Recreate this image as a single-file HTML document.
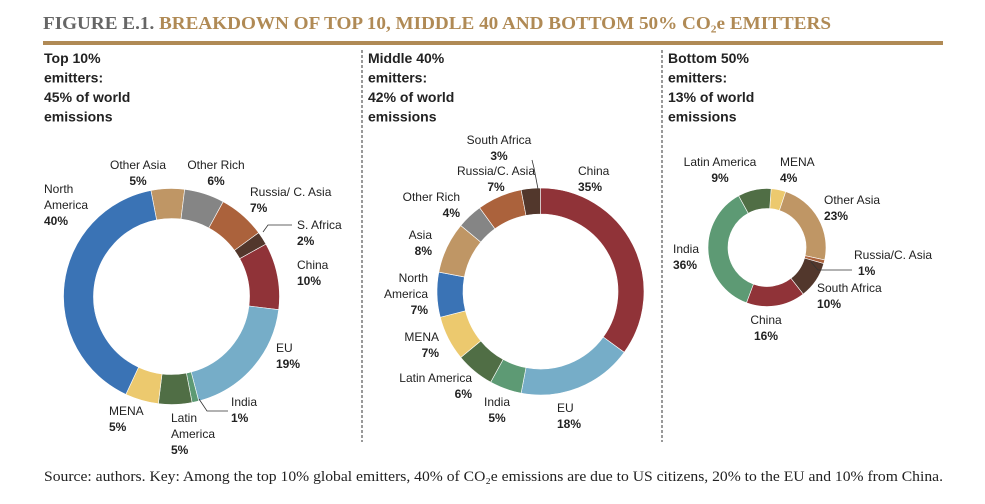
<!DOCTYPE html>
<html><head><meta charset="utf-8"><style>
body{margin:0;width:985px;height:504px;background:#fff;overflow:hidden;font-family:"Liberation Sans",sans-serif}
svg{position:absolute;left:0;top:0}
.t{font-size:12px;fill:#222}
.b{font-weight:bold}
</style></head><body>
<svg width="985" height="504">
<text x="43" y="29" font-family="Liberation Serif" font-weight="bold" font-size="18" textLength="788" lengthAdjust="spacingAndGlyphs"><tspan fill="#666">FIGURE E.1. </tspan><tspan fill="#b08a55">BREAKDOWN OF TOP 10, MIDDLE 40 AND BOTTOM 50% CO₂e EMITTERS</tspan></text>
<rect x="43" y="41" width="900" height="4" fill="#b08a55"/>
<line x1="362" y1="50" x2="362" y2="442" stroke="#333" stroke-dasharray="3,2"/>
<line x1="662" y1="50" x2="662" y2="442" stroke="#333" stroke-dasharray="3,2"/>
<g font-size="14" font-weight="bold" fill="#222">
<text x="44" y="63"><tspan x="44">Top 10%</tspan><tspan x="44" dy="19.5">emitters:</tspan><tspan x="44" dy="19.5">45% of world</tspan><tspan x="44" dy="19.5">emissions</tspan></text>
<text x="368" y="63"><tspan x="368">Middle 40%</tspan><tspan x="368" dy="19.5">emitters:</tspan><tspan x="368" dy="19.5">42% of world</tspan><tspan x="368" dy="19.5">emissions</tspan></text>
<text x="668" y="63"><tspan x="668">Bottom 50%</tspan><tspan x="668" dy="19.5">emitters:</tspan><tspan x="668" dy="19.5">13% of world</tspan><tspan x="668" dy="19.5">emissions</tspan></text>
</g>
<g id="d1"></g><g id="d2"></g><g id="d3"></g>
<g id="labels" class="t"></g>
<text x="44" y="481" font-family="Liberation Serif" font-size="15" fill="#222" textLength="899" lengthAdjust="spacingAndGlyphs">Source: authors. Key: Among the top 10% global emitters, 40% of CO₂e emissions are due to US citizens, 20% to the EU and 10% from China.</text>
</svg>
<script>
const C={na:"#3a73b5",oa:"#bf9665",or:"#858585",ru:"#ab623c",sa:"#52372c",cn:"#903338",eu:"#76adc8",in:"#5d9a74",la:"#506e45",me:"#ecc96e"};
const cats1=["Other Asia","Other Rich","Russia/ C. Asia","S. Africa","China","EU","India","Latin America","MENA","North America"];
const vals1=[5,6,7,2,10,19,1,5,5,40];
const cols1=[C.oa,C.or,C.ru,C.sa,C.cn,C.eu,C.in,C.la,C.me,C.na];
const cats2=["China","EU","India","Latin America","MENA","North America","Asia","Other Rich","Russia/C. Asia","South Africa"];
const vals2=[35,18,5,6,7,7,8,4,7,3];
const cols2=[C.cn,C.eu,C.in,C.la,C.me,C.na,C.oa,C.or,C.ru,C.sa];
const cats3=["MENA","Other Asia","Russia/C. Asia","South Africa","China","India","Latin America"];
const vals3=[4,23,1,10,16,36,9];
const cols3=[C.me,C.oa,C.ru,C.sa,C.cn,C.in,C.la];
const NS="http://www.w3.org/2000/svg";
function pt(cx,cy,r,deg){const a=(deg-90)*Math.PI/180;return [cx+r*Math.cos(a),cy+r*Math.sin(a)];}
function donut(g,cats,vals,cols,cx,cy,ro,ri,start,prefix){
  const tot=vals.reduce((a,b)=>a+b,0);let a=start;
  vals.forEach((v,i)=>{
    const s=a,e=a+v/tot*360;a=e;
    const [x1,y1]=pt(cx,cy,ro,s),[x2,y2]=pt(cx,cy,ro,e),[x3,y3]=pt(cx,cy,ri,e),[x4,y4]=pt(cx,cy,ri,s);
    const l=(e-s)>180?1:0;
    const p=document.createElementNS(NS,"path");
    p.setAttribute("d",`M${x1},${y1}A${ro},${ro} 0 ${l} 1 ${x2},${y2}L${x3},${y3}A${ri},${ri} 0 ${l} 0 ${x4},${y4}Z`);
    p.setAttribute("fill",cols[i]);p.setAttribute("stroke","#fff");p.setAttribute("stroke-width","0.6");
    
    
    document.getElementById(g).appendChild(p);
  });
}
donut("d1",cats1,vals1,cols1,171.5,296.5,108,78,-11,"top10");
donut("d2",cats2,vals2,cols2,540.5,291.5,103.5,77.5,0,"middle40");
donut("d3",cats3,vals3,cols3,767,247.5,59,39,4,"bottom50");
const L=[
["top10",[["North","America","40%"],44,193,"start"],[["Other Asia","5%"],138,169,"middle"],[["Other Rich","6%"],216,169,"middle"],[["Russia/ C. Asia","7%"],250,196,"start"],[["S. Africa","2%"],297,229,"start"],[["China","10%"],297,269,"start"],[["EU","19%"],276,352,"start"],[["India","1%"],231,406,"start"],[["Latin","America","5%"],171,422,"start"],[["MENA","5%"],109,415,"start"]],
["middle40",[["South Africa","3%"],499,144,"middle"],[["China","35%"],578,175,"start"],[["Russia/C. Asia","7%"],496,175,"middle"],[["Other Rich","4%"],460,201,"end"],[["Asia","8%"],432,239,"end"],[["North","America","7%"],428,282,"end"],[["MENA","7%"],439,341,"end"],[["Latin America","6%"],472,382,"end"],[["India","5%"],497,406,"middle"],[["EU","18%"],557,412,"start"]],
["bottom50",[["Latin America","9%"],720,166,"middle"],[["MENA","4%"],780,166,"start"],[["Other Asia","23%"],824,204,"start"],[["Russia/C. Asia","1%"],854,259,"start"],[["South Africa","10%"],817,292,"start"],[["China","16%"],766,324,"middle"],[["India","36%"],673,253,"start"]]
];
const lg=document.getElementById("labels");
L.forEach(grp=>{const pre=grp[0];grp.slice(1).forEach(([lines,x,y,anc])=>{
  const t=document.createElementNS(NS,"text");t.setAttribute("x",x);t.setAttribute("y",y);t.setAttribute("text-anchor",anc);
  
  
  lines.forEach((s,i)=>{const ts=document.createElementNS(NS,"tspan");ts.setAttribute("x",x);if(i)ts.setAttribute("dy",16);if(i==lines.length-1)ts.setAttribute("font-weight","bold");
    if(pre=="bottom50"&&lines[0]=="Russia/C. Asia"&&i==1){ts.setAttribute("x",x+4);}
    ts.textContent=s;t.appendChild(ts);});
  lg.appendChild(t);});});
[[263,232,268,225,292,225],[199,399,207,411,228,411],[811,262,818,270,852,270],[538,189,534,168,532,160]].forEach(p=>{
  const pl=document.createElementNS(NS,"polyline");pl.setAttribute("points",p.join(","));pl.setAttribute("fill","none");pl.setAttribute("stroke","#333");pl.setAttribute("stroke-width","0.8");
  
  
  lg.appendChild(pl);});
</script>
</body></html>
